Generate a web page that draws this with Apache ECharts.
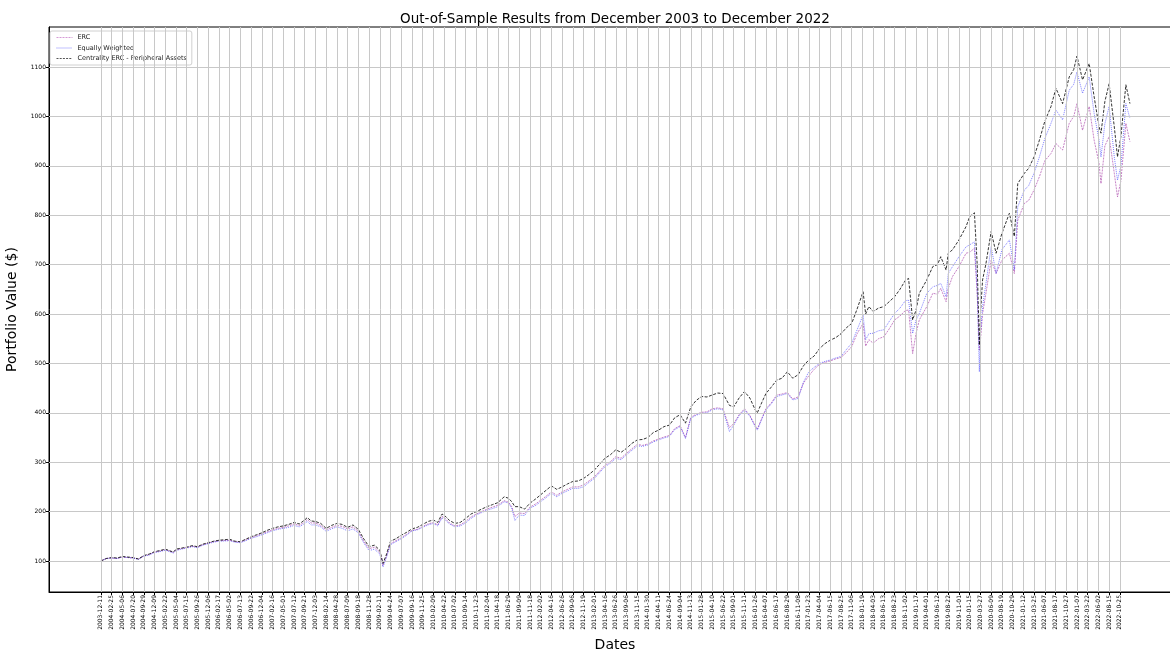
<!DOCTYPE html>
<html><head><meta charset="utf-8">
<script src="https://cdn.jsdelivr.net/npm/echarts@6/dist/echarts.min.js"></script>
<style>html,body{margin:0;padding:0;background:#fff}#c{width:1170px;height:650px}</style>
</head><body><div id="c"></div>
<script>
// Tick labels (every 50 trading days)
const tickLabels = [
"2003-12-11","2004-02-25","2004-05-06","2004-07-20","2004-09-29","2004-12-09","2005-02-22","2005-05-04","2005-07-15","2005-09-26",
"2005-12-06","2006-02-17","2006-05-02","2006-07-13","2006-09-22","2006-12-04","2007-02-16","2007-05-01","2007-07-12","2007-09-21",
"2007-12-03","2008-02-14","2008-04-28","2008-07-09","2008-09-18","2008-11-28","2009-02-11","2009-04-24","2009-07-07","2009-09-16",
"2009-11-25","2010-02-09","2010-04-22","2010-07-02","2010-09-14","2010-11-23","2011-02-04","2011-04-18","2011-06-29","2011-09-09",
"2011-11-18","2012-02-02","2012-04-16","2012-06-26","2012-09-06","2012-11-19","2013-02-01","2013-04-16","2013-06-26","2013-09-06",
"2013-11-15","2014-01-30","2014-04-11","2014-06-24","2014-09-04","2014-11-13","2015-01-28","2015-04-10","2015-06-22","2015-09-01",
"2015-11-11","2016-01-26","2016-04-07","2016-06-17","2016-08-29","2016-11-08","2017-01-23","2017-04-04","2017-06-15","2017-08-25",
"2017-11-06","2018-01-19","2018-04-03","2018-06-13","2018-08-23","2018-11-02","2019-01-17","2019-04-01","2019-06-12","2019-08-22",
"2019-11-01","2020-01-15","2020-03-27","2020-06-09","2020-08-19","2020-10-29","2021-01-12","2021-03-25","2021-06-07","2021-08-17",
"2021-10-27","2022-01-07","2022-03-22","2022-06-02","2022-08-15","2022-10-25"
];
const labelStep = 50;
// trading-day index of each sampled value
const dayIndex = [
0,25,50,75,100,125,150,175,200,225,250,275,300,338,350,375,400,425,450,475,
500,525,550,600,625,650,675,700,725,750,775,800,825,850,875,900,925,950,962,980,
1000,1025,1050,1075,1100,1125,1150,1175,1200,1225,1250,1275,1300,1315,1330,1350,1375,1400,1425,1450,
1475,1500,1525,1550,1570,1590,1600,1625,1650,1675,1700,1725,1750,1775,1800,1825,1850,1880,1900,1915,
1930,1950,1975,2000,2025,2050,2075,2100,2125,2150,2175,2200,2225,2250,2275,2300,2325,2350,2375,2400,
2425,2450,2475,2500,2525,2550,2575,2600,2625,2650,2675,2700,2725,2750,2775,2800,2825,2850,2875,2900,
2930,2950,2975,3000,3025,3050,3060,3080,3100,3125,3150,3175,3200,3225,3250,3275,3300,3325,3350,3375,
3400,3425,3450,3475,3500,3525,3553,3565,3580,3600,3625,3650,3675,3700,3725,3750,3765,3784,3800,3815,
3850,3878,3900,3915,3940,3950,3970,4000,4033,4050,4072,4085,4095,4100,4110,4125,4150,4173,4200,4235,
4258,4274,4305,4325,4350,4375,4400,4429,4452,4483,4514,4535,4550,4576,4607,4630,4653,4662,4680,4700,
4724,4739,4755,4778,4797
];
const ercValues = [
100,105,106,105,108,107,106,104,110,113,118,120,123,117,122,125,127,130,128,133,
136,139,141,142,139,138,143,147,151,155,159,163,166,168,171,175,172,179,184,177,
177,172,163,168,172,170,165,169,160,140,125,128,118,91,108,135,141,147,154,162,
164,170,175,178,173,190,188,177,171,173,180,189,195,200,205,209,213,222,219,210,
190,197,196,209,215,223,231,240,233,240,245,250,250,254,262,270,282,294,301,311,
308,318,327,336,334,337,343,347,351,354,368,374,350,391,397,401,402,408,410,408,
370,378,396,408,395,374,367,388,408,420,436,438,441,428,432,460,475,488,498,502,
505,509,512,522,534,560,581,535,548,541,550,554,570,588,596,607,608,520,561,588,
615,642,640,652,625,652,676,696,723,725,733,640,527,547,601,640,709,682,709,723,
682,790,824,830,851,878,910,925,945,932,986,1000,1026,972,1020,952,905,864,940,959,
885,837,870,986,949
];
const ewValues = [
100,105,106,105,108,107,106,103,110,112,117,119,122,116,121,124,126,129,127,132,
135,138,140,141,138,137,141,146,149,153,157,161,164,166,168,172,169,176,180,173,
173,169,160,165,169,166,161,165,157,137,121,124,114,88,106,133,139,145,152,161,
163,168,173,176,171,187,185,175,169,171,177,186,193,198,203,206,210,220,217,207,
182,193,192,207,212,220,228,237,230,237,242,247,247,250,259,267,279,291,298,308,
305,315,324,333,332,335,341,345,349,352,366,372,348,389,395,399,400,406,408,406,
362,375,394,406,393,372,365,386,406,418,433,436,439,426,429,462,483,492,500,504,
507,511,514,528,541,568,598,548,560,561,566,568,585,601,612,627,628,561,588,601,
642,655,658,662,635,682,696,716,736,740,746,650,483,561,615,660,736,682,730,750,
689,817,851,860,885,918,955,986,1013,993,1053,1065,1090,1047,1080,1006,952,918,985,1020,
918,871,900,1026,996
];
const centralityValues = [
100,105,107,106,109,108,107,104,111,114,119,121,124,118,124,126,128,131,129,134,
137,140,142,144,140,139,144,149,153,157,162,166,169,171,174,178,175,183,188,181,
180,176,166,172,176,174,168,173,164,145,129,132,122,95,112,140,145,152,158,165,
168,174,180,183,178,195,193,182,176,178,186,195,200,205,210,214,218,230,227,220,
210,210,205,217,225,234,243,252,245,250,256,261,262,267,275,284,296,308,315,325,
320,328,338,345,346,350,360,365,372,375,390,396,379,412,425,433,432,436,440,439,
415,412,430,443,430,406,400,420,439,452,466,470,483,470,477,495,507,515,530,540,
547,552,560,572,581,610,645,600,615,605,612,615,625,635,650,668,672,588,608,642,
669,696,700,716,689,723,730,750,777,797,805,700,537,600,669,700,767,723,763,804,
757,864,885,895,918,952,990,1020,1057,1026,1080,1095,1122,1074,1107,1040,979,966,1030,1066,
979,918,960,1064,1026
];
const yTickValues = [100,200,300,400,500,600,700,800,900,1000,1100];
const xTickValues = tickLabels.map((_, i) => i * labelStep);

const FONT = '"DejaVu Sans", sans-serif';
const GRID_COLOR = '#c8c8c8';
const ERC_COLOR = 'rgba(170,70,170,0.85)';
const EW_COLOR = 'rgba(40,40,255,0.75)';
const CERC_COLOR = '#000';
const chart = echarts.init(document.getElementById('c'), null, {renderer: 'canvas'});
const mk = (vals) => dayIndex.map((d, i) => [d, vals[i]]);
chart.setOption({
  animation: false,
  backgroundColor: '#fff',
  textStyle: {fontFamily: FONT},
  graphic: [{
    type: 'text', x: 615, y: 12, silent: true,
    style: {text: 'Out-of-Sample Results from December 2003 to December 2022', font: '13.5px ' + FONT, fill: '#000', align: 'center', textAlign: 'center'}
  }],
  legend: {
    left: 50, top: 31, orient: 'vertical',
    itemWidth: 16, itemHeight: 7, itemGap: 3.5,
    padding: [3, 5, 3, 6],
    borderColor: '#d0d0d0', borderWidth: 1, borderRadius: 2,
    backgroundColor: 'rgba(255,255,255,0.8)',
    itemStyle: {color: 'transparent', borderColor: 'transparent', borderWidth: 0, opacity: 0},
    textStyle: {fontSize: 6.5, fontFamily: FONT, color: '#222'},
    data: [
      {name: 'ERC', lineStyle: {color: 'rgba(200,120,200,0.95)', width: 0.8, type: [2, 1]}},
      {name: 'Equally Weighted', lineStyle: {color: 'rgba(90,90,255,0.95)', width: 0.8, type: [1, 1]}},
      {name: 'Centrality ERC - Peripheral Assets', lineStyle: {color: '#555', width: 1, type: [2, 1.2]}}
    ]
  },
  grid: {left: 49, top: 27, width: 1132, height: 565, show: true, borderColor: '#000', borderWidth: 1,
         outerBoundsMode: 'none', containLabel: false},
  xAxis: {
    type: 'value', min: -242, max: 5035,
    name: 'Dates', nameLocation: 'middle', nameGap: 46,
    nameTextStyle: {fontSize: 14, fontFamily: FONT, color: '#000'},
    axisLine: {show: true, onZero: false, lineStyle: {color: '#000', width: 1}},
    axisTick: {show: true, length: 3, lineStyle: {color: '#000'}, customValues: xTickValues},
    axisLabel: {
      customValues: xTickValues, rotate: 90, fontSize: 6, fontFamily: FONT, color: '#000', margin: 3,
      formatter: (v) => tickLabels[Math.round(v / labelStep)] || ''
    },
    splitLine: {show: false}
  },
  yAxis: {
    type: 'value', min: 37.2, max: 1181,
    name: 'Portfolio Value ($)', nameLocation: 'middle', nameGap: 27,
    nameTextStyle: {fontSize: 14, fontFamily: FONT, color: '#000'},
    axisLine: {show: true, onZero: false, lineStyle: {color: '#000', width: 1}},
    axisTick: {show: true, length: 3, lineStyle: {color: '#000'}, customValues: yTickValues},
    axisLabel: {customValues: yTickValues, fontSize: 6, fontFamily: FONT, color: '#000', margin: 3,
      formatter: (v) => String(v)},
    splitLine: {show: false}
  },
  series: [
    {name: 'gridlines', type: 'line', data: [], silent: true, z: 0,
     markLine: {silent: true, symbol: 'none', animation: false, label: {show: false},
       lineStyle: {color: GRID_COLOR, width: 1, type: 'solid'}, emphasis: {disabled: true},
       data: xTickValues.map(v => ({xAxis: v})).concat(yTickValues.map(v => ({yAxis: v})))}},
    {name: 'ERC', type: 'line', symbol: 'none', data: mk(ercValues), z: 2,
     lineStyle: {color: ERC_COLOR, width: 0.8, type: [2, 1]}, itemStyle: {color: ERC_COLOR}},
    {name: 'Equally Weighted', type: 'line', symbol: 'none', data: mk(ewValues), z: 3,
     lineStyle: {color: EW_COLOR, width: 0.8, type: [1, 1]}, itemStyle: {color: EW_COLOR}},
    {name: 'Centrality ERC - Peripheral Assets', type: 'line', symbol: 'none', data: mk(centralityValues), z: 4,
     lineStyle: {color: CERC_COLOR, width: 0.8, type: [3, 1.5]}, itemStyle: {color: CERC_COLOR}}
  ]
});
</script></body></html>
